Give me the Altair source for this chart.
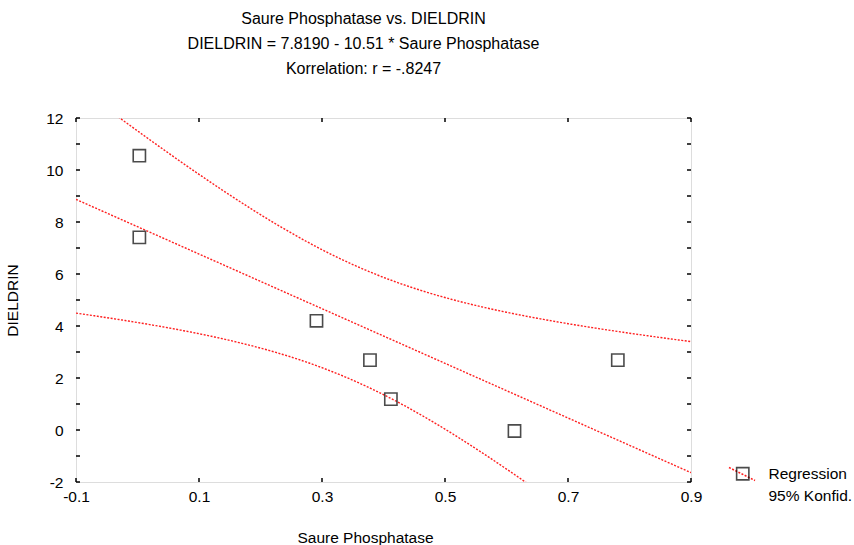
import altair as alt
import numpy as np
import pandas as pd

# ---- data ----
x_vals = [0.003, 0.003, 0.291, 0.378, 0.412, 0.613, 0.781]   # Saure Phosphatase
y_vals = [10.55, 7.41, 4.20, 2.69, 1.19, -0.04, 2.69]        # DIELDRIN
x_ticks = [-0.1, 0.1, 0.3, 0.5, 0.7, 0.9]
y_ticks = [-2, 0, 2, 4, 6, 8, 10, 12]
y_minor = list(range(-2, 13))
title_lines = ["Saure Phosphatase vs. DIELDRIN",
               "DIELDRIN = 7.8190 - 10.51 * Saure Phosphatase",
               "Korrelation: r = -.8247"]
intercept, slope = 7.8190, -10.51     # from the chart's equation
t_crit = 2.5706                        # t(0.975, df = n-2 = 5)
legend_labels = ["Regression", "95% Konfid."]

# ---- regression line and 95% confidence band derived from the points ----
xs = np.asarray(x_vals)
ys = np.asarray(y_vals)
n = len(xs)
resid = ys - (intercept + slope * xs)
s = np.sqrt((resid ** 2).sum() / (n - 2))
xbar = xs.mean()
sxx = ((xs - xbar) ** 2).sum()
grid = np.linspace(-0.1, 0.9, 201)
fit = intercept + slope * grid
hw = t_crit * s * np.sqrt(1.0 / n + (grid - xbar) ** 2 / sxx)
lines = pd.concat([
    pd.DataFrame({"x": grid, "y": fit, "curve": "fit"}),
    pd.DataFrame({"x": grid, "y": fit + hw, "curve": "upper"}),
    pd.DataFrame({"x": grid, "y": fit - hw, "curve": "lower"}),
])
lines["kind"] = "Regression"

pts = pd.DataFrame({"x": x_vals, "y": y_vals, "series": "Regression"})

FONT = "Liberation Sans"
FS = 15.5
xscale = alt.Scale(domain=[-0.1, 0.9], nice=False, zero=False)
yscale = alt.Scale(domain=[-2, 12], nice=False, zero=False)

xaxis = alt.Axis(values=x_ticks, labelExpr="'' + datum.value", ticks=False,
                 domain=False, grid=False, labelPadding=7, labelFontSize=FS,
                 labelFont=FONT, labelColor="black", labelFlush=False,
                 title="Saure Phosphatase",
                 titleFont=FONT, titleFontSize=FS, titleFontWeight="normal",
                 titleColor="black", titleX=289, titleY=48)
yaxis = alt.Axis(values=y_ticks, labelExpr="'' + datum.value", ticks=False,
                 domain=False, grid=False, labelPadding=13, labelFontSize=FS,
                 labelFont=FONT, labelColor="black", labelFlush=False,
                 title="DIELDRIN",
                 titleFont=FONT, titleFontSize=FS, titleFontWeight="normal",
                 titleColor="black", titleX=-56, titleY=182)

curves = alt.Chart(lines).mark_line(strokeDash=[2, 1.5], strokeWidth=1.4, clip=True).encode(
    x=alt.X("x:Q", scale=xscale, axis=xaxis),
    y=alt.Y("y:Q", scale=yscale, axis=yaxis),
    detail="curve:N",
    color=alt.Color("kind:N", scale=alt.Scale(domain=["Regression"], range=["#ff2020"]),
                    legend=alt.Legend(orient="none", legendX=652, legendY=342, title=None,
                                      symbolType="M-1,-0.5L1,0.5", symbolSize=676,
                                      symbolStrokeWidth=1.6, symbolStrokeColor="#ff2020",
                                      symbolDash=[2, 1.5], labelExpr="''", padding=0,
                                      zindex=0)),
)

points = alt.Chart(pts).mark_point(filled=False, size=150, strokeWidth=1.6, color="black").encode(
    x=alt.X("x:Q", scale=xscale),
    y=alt.Y("y:Q", scale=yscale),
    shape=alt.Shape("series:N",
                    scale=alt.Scale(domain=legend_labels, range=["square", "M0,0Z"]),
                    legend=alt.Legend(orient="none", legendX=659, legendY=348, title=None,
                                      symbolStrokeColor="black", symbolFillColor="white",
                                      symbolSize=150, symbolStrokeWidth=1.6,
                                      labelFont=FONT, labelFontSize=FS, labelColor="black",
                                      labelOffset=18, rowPadding=4, padding=0, zindex=1)),
)

tick_df_x = pd.DataFrame({"v": x_ticks})
tick_df_y = pd.DataFrame({"v": y_minor})
tb = alt.Chart(tick_df_x).mark_rule(color="black", strokeWidth=1.5).encode(
    x=alt.X("v:Q", scale=xscale), y=alt.datum(-2), y2=alt.datum(-1.85))
tt = alt.Chart(tick_df_x).mark_rule(color="black", strokeWidth=1.5).encode(
    x=alt.X("v:Q", scale=xscale), y=alt.datum(12), y2=alt.datum(11.85))
tl = alt.Chart(tick_df_y).mark_rule(color="black", strokeWidth=1.5).encode(
    y=alt.Y("v:Q", scale=yscale), x=alt.datum(-0.1), x2=alt.datum(-0.0935))
tr = alt.Chart(tick_df_y).mark_rule(color="black", strokeWidth=1.5).encode(
    y=alt.Y("v:Q", scale=yscale), x=alt.datum(0.9), x2=alt.datum(0.8935))

chart = alt.layer(curves, tb, tt, tl, tr, points).resolve_legend(
    shape="independent", color="independent"
).properties(
    width=615, height=364,
    autosize=alt.AutoSizeParams(type="none"),
    padding={"left": 76, "top": 118, "right": 163, "bottom": 63},
    title=alt.TitleParams(text=title_lines, font=FONT, fontSize=16, fontWeight="normal",
                          color="black", lineHeight=25, anchor="middle", dx=-20, offset=34),
).configure_view(stroke="black", strokeWidth=1.8).configure(background="white")

chart.save("out.html", embed_options={"renderer": "svg", "actions": False})
